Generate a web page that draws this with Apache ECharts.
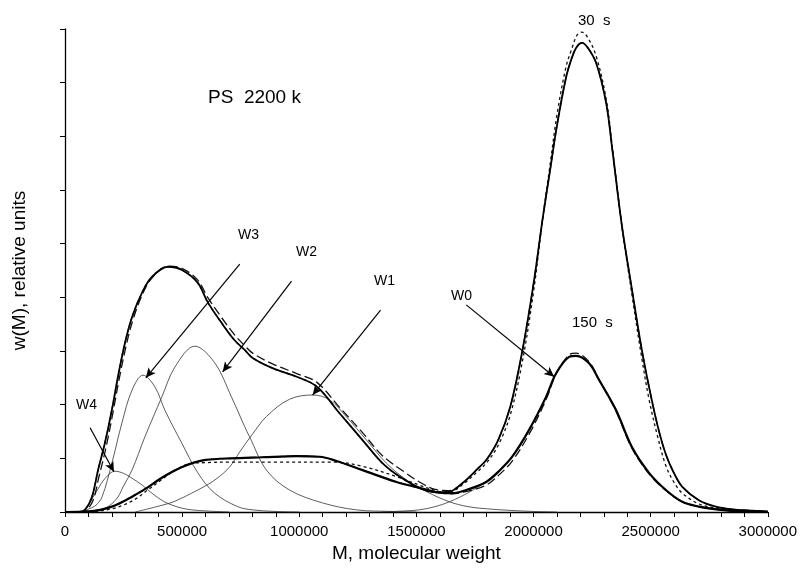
<!DOCTYPE html>
<html>
<head>
<meta charset="utf-8">
<title>PS 2200 k molecular weight distribution</title>
<script src="https://cdn.jsdelivr.net/npm/echarts@6/dist/echarts.min.js"></script>
<style>
  html, body { margin: 0; padding: 0; background: #fff; }
  #chart { width: 800px; height: 569px; }
</style>
</head>
<body>
<div id="chart"></div>
<script>
// Molecular weight in thousands (k), w(M) in relative units.
const K = 1000;

// 30 s distribution: fitted (solid), measured (dashed), model (dotted)
const w30Solid = [[0,0],[60,0],[85,0.04],[115,0.28],[141,0.78],[170,1.28],[200,1.9],[226,2.52],[256,3.15],[286,3.63],[328,4.08],[371,4.38],[439,4.57],[499,4.51],[567,4.27],[609,3.91],[669,3.52],[724,3.2],[767,3.02],[801,2.87],[886,2.68],[989,2.52],[1074,2.34],[1172,1.84],[1270,1.34],[1355,0.91],[1428,0.66],[1513,0.45],[1580,0.37],[1640,0.38],[1700,0.55],[1760,0.8],[1800,0.98],[1850,1.35],[1900,1.95],[1950,2.95],[2000,4.25],[2040,5.5],[2070,6.35],[2100,7.2],[2139,8.1],[2165,8.48],[2185,8.67],[2207,8.74],[2230,8.66],[2267,8.37],[2310,7.62],[2335,6.8],[2378,5.31],[2420,4.15],[2459,3.1],[2493,2.33],[2530,1.6],[2565,1.07],[2600,0.72],[2635,0.47],[2706,0.22],[2778,0.1],[2850,0.05],[2919,0.03],[3000,0.01]];
const w30Dash = [[0,0],[60,0],[90,0.03],[120,0.22],[145,0.66],[175,1.2],[205,1.86],[230,2.45],[260,3.08],[290,3.58],[330,4.05],[371,4.36],[439,4.58],[499,4.54],[567,4.32],[609,4.0],[669,3.62],[724,3.3],[767,3.1],[801,2.96],[886,2.76],[989,2.58],[1074,2.42],[1172,1.95],[1270,1.48],[1355,1.05],[1457,0.72],[1513,0.56],[1580,0.42],[1640,0.4],[1700,0.55],[1760,0.8],[1800,0.98],[1850,1.35],[1900,1.95],[1950,2.95],[2000,4.25],[2040,5.5],[2070,6.35],[2100,7.2],[2139,8.1],[2165,8.48],[2185,8.67],[2207,8.74],[2230,8.66],[2267,8.37],[2310,7.62],[2335,6.8],[2378,5.31],[2420,4.15],[2459,3.1],[2493,2.33],[2530,1.6],[2565,1.07],[2600,0.72],[2635,0.47],[2706,0.22],[2778,0.1],[2850,0.05],[2919,0.03],[3000,0.01]];
const w30Dot = [[0,0],[60,0],[85,0.04],[115,0.28],[141,0.78],[170,1.28],[200,1.9],[226,2.52],[256,3.15],[286,3.63],[328,4.08],[371,4.38],[439,4.57],[499,4.51],[567,4.27],[609,3.91],[669,3.52],[724,3.2],[767,3.02],[801,2.87],[886,2.68],[989,2.52],[1074,2.34],[1172,1.84],[1270,1.34],[1355,0.91],[1428,0.66],[1513,0.45],[1580,0.37],[1640,0.37],[1700,0.52],[1760,0.75],[1800,0.92],[1850,1.25],[1900,1.8],[1950,2.75],[2000,4.1],[2040,5.5],[2070,6.45],[2100,7.4],[2139,8.3],[2165,8.65],[2185,8.88],[2207,8.94],[2230,8.85],[2267,8.5],[2310,7.7],[2335,6.85],[2378,5.3],[2420,4.05],[2459,2.95],[2493,2.1],[2530,1.4],[2565,0.86],[2600,0.55],[2635,0.35],[2706,0.15],[2778,0.07],[2850,0.03],[2919,0.02],[3000,0.01]];

// 150 s distribution: fitted (solid), measured (dashed), model (dotted)
const w150Solid = [[0,0],[100,0.01],[150,0.04],[200,0.1],[250,0.2],[300,0.32],[350,0.45],[400,0.6],[450,0.73],[500,0.84],[550,0.92],[600,0.97],[703,1.0],[844,1.02],[989,1.04],[1087,1.03],[1159,0.95],[1270,0.78],[1415,0.56],[1513,0.45],[1598,0.36],[1653,0.35],[1720,0.42],[1798,0.56],[1850,0.75],[1909,1.03],[1981,1.53],[2054,2.15],[2096,2.58],[2152,2.89],[2182,2.91],[2237,2.77],[2280,2.46],[2352,1.9],[2420,1.21],[2493,0.73],[2565,0.41],[2635,0.19],[2706,0.1],[2800,0.04],[2900,0.01],[3000,0]];
const w150Dash = [[0,0],[100,0.01],[150,0.04],[200,0.1],[250,0.2],[300,0.32],[350,0.45],[400,0.6],[450,0.73],[500,0.84],[550,0.92],[600,0.97],[703,1.0],[844,1.02],[989,1.04],[1087,1.03],[1159,0.95],[1270,0.78],[1415,0.56],[1513,0.45],[1598,0.36],[1653,0.34],[1720,0.39],[1798,0.5],[1850,0.68],[1909,0.95],[1981,1.45],[2054,2.1],[2096,2.57],[2152,2.93],[2182,2.96],[2237,2.8],[2280,2.46],[2352,1.88],[2420,1.19],[2493,0.71],[2565,0.4],[2635,0.19],[2706,0.1],[2800,0.04],[2900,0.01],[3000,0]];
const w150Dot = [[0,0],[120,0.01],[200,0.06],[250,0.13],[300,0.24],[350,0.4],[418,0.62],[470,0.78],[533,0.9],[600,0.92],[700,0.93],[900,0.93],[1150,0.93],[1270,0.85],[1415,0.66],[1513,0.5],[1598,0.38],[1653,0.35],[1720,0.42],[1798,0.56],[1850,0.75],[1909,1.03],[1981,1.53],[2054,2.15],[2096,2.58],[2152,2.89],[2182,2.91],[2237,2.77],[2280,2.46],[2352,1.9],[2420,1.21],[2493,0.73],[2565,0.41],[2635,0.19],[2706,0.1],[2800,0.04],[2900,0.01],[3000,0]];

// Gaussian-like components W0..W4
const compW0 = [[1350,0],[1450,0.02],[1513,0.04],[1580,0.1],[1641,0.19],[1726,0.37],[1800,0.58],[1850,0.77],[1909,1.03],[1981,1.53],[2054,2.15],[2096,2.58],[2152,2.89],[2182,2.91],[2237,2.77],[2280,2.46],[2352,1.9],[2420,1.21],[2493,0.73],[2565,0.41],[2635,0.19],[2706,0.1],[2800,0.04],[2900,0.01],[3000,0]];
const compW1 = [[300,0],[418,0.13],[469,0.2],[540,0.35],[605,0.5],[650,0.63],[703,0.84],[746,1.12],[800,1.45],[860,1.78],[958,2.1],[1057,2.18],[1129,2.09],[1202,1.77],[1287,1.34],[1372,0.91],[1457,0.6],[1543,0.38],[1641,0.19],[1720,0.1],[1798,0.06],[1900,0.03],[2000,0.01],[2100,0]];
const compW2 = [[110,0],[150,0.04],[190,0.12],[226,0.28],[248,0.47],[286,0.78],[341,1.4],[413,2.14],[469,2.7],[554,3.09],[639,2.78],[711,2.14],[767,1.59],[788,1.4],[860,0.78],[958,0.41],[1099,0.17],[1244,0.04],[1400,0.01],[1500,0]];
const compW3 = [[70,0],[92,0.04],[130,0.12],[158,0.28],[200,0.91],[243,1.66],[286,2.27],[333,2.55],[384,2.33],[426,1.9],[499,1.28],[567,0.73],[639,0.35],[737,0.1],[800,0.04],[900,0.01],[1000,0]];
const compW4 = [[60,0],[80,0.03],[98,0.1],[120,0.28],[141,0.43],[170,0.62],[213,0.76],[250,0.72],[286,0.63],[330,0.5],[371,0.35],[420,0.2],[456,0.13],[500,0.07],[541,0.04],[600,0.02],[700,0]];

// Annotation arrows: [label, fromM(k), fromW, toM(k), toW]
const arrowW = [
  ['W4', 107, 1.57, 209, 0.75],
  ['W3', 746, 4.62, 345, 2.50],
  ['W2', 967, 4.30, 673, 2.61],
  ['W1', 1347, 3.76, 1057, 2.18],
  ['W0', 1713, 3.86, 2088, 2.52]
];

const xTicks = [0, 500000, 1000000, 1500000, 2000000, 2500000, 3000000];

const FONT = '"Liberation Sans", Arial, Helvetica, sans-serif';
const toXY = arr => arr.map(p => [p[0] * K, p[1]]);

function curve(name, data, width, type, color, z) {
  return {
    name, type: 'line', data: toXY(data), showSymbol: false, symbol: 'none',
    smooth: 0.35, z: z, silent: true,
    lineStyle: { color: color, width: width, type: type }
  };
}

const chart = echarts.init(document.getElementById('chart'), null, { renderer: 'canvas' });

const series = [
  curve('W0', compW0, 0.8, 'solid', '#333', 1),
  curve('W1', compW1, 0.8, 'solid', '#333', 1),
  curve('W2', compW2, 0.8, 'solid', '#333', 1),
  curve('W3', compW3, 0.8, 'solid', '#333', 1),
  curve('W4', compW4, 0.8, 'solid', '#333', 1),
  curve('150 s model', w150Dot, 1.3, [3, 3], '#111', 2),
  curve('150 s measured', w150Dash, 1.3, [9, 4], '#111', 2),
  curve('30 s model', w30Dot, 1.3, [3, 3], '#111', 2),
  curve('30 s measured', w30Dash, 1.3, [9, 4], '#111', 2),
  curve('150 s', w150Solid, 2.2, 'solid', '#000', 3),
  curve('30 s', w30Solid, 1.8, 'solid', '#000', 3),
  {
    name: 'arrows', type: 'line', data: [], silent: true,
    markLine: {
      silent: true, animation: false,
      symbol: ['none', 'arrow'], symbolSize: [7, 10],
      label: { show: false },
      lineStyle: { color: '#000', width: 1.2, type: 'solid' },
      data: arrowW.map(a => [
        { coord: [a[1] * K, a[2]] },
        { coord: [a[3] * K, a[4]] }
      ])
    }
  }
];

const textItem = (x, y, text, size) => ({
  type: 'text', left: x, top: y,
  style: { text: text, font: size + 'px ' + FONT, fill: '#000' }
});

chart.setOption({
  animation: false,
  backgroundColor: '#fff',
  grid: { left: 65, right: 31, top: 29, bottom: 57, containLabel: false },
  xAxis: {
    type: 'value', min: 0, max: 3000000, interval: 100000,
    name: 'M, molecular weight', nameLocation: 'middle', nameGap: 28,
    nameTextStyle: { fontFamily: FONT, fontSize: 19, color: '#000' },
    axisLine: { show: true, lineStyle: { color: '#000', width: 1.3 } },
    axisTick: { show: true, length: 5, lineStyle: { color: '#000', width: 1 } },
    axisLabel: {
      margin: 12, fontFamily: FONT, fontSize: 15, color: '#000',
      formatter: v => (xTicks.indexOf(v) >= 0 ? String(v) : '')
    },
    splitLine: { show: false }
  },
  yAxis: {
    type: 'value', min: 0, max: 9, interval: 1,
    name: 'w(M), relative units', nameLocation: 'middle', nameGap: 36, nameRotate: 90,
    nameTextStyle: { fontFamily: FONT, fontSize: 19, color: '#000' },
    axisLine: { show: true, lineStyle: { color: '#000', width: 1.3 } },
    axisTick: { show: true, length: 5, lineStyle: { color: '#000', width: 1 } },
    axisLabel: { show: false },
    splitLine: { show: false }
  },
  graphic: [
    textItem(208, 88, 'PS  2200 k', 19),
    textItem(578, 13, '30  s', 15),
    textItem(572, 315, '150  s', 15),
    textItem(238, 228, 'W3', 14),
    textItem(296, 245, 'W2', 14),
    textItem(374, 274, 'W1', 14),
    textItem(451, 289, 'W0', 14),
    textItem(76, 398, 'W4', 14)
  ],
  series: series
});
</script>
</body>
</html>
